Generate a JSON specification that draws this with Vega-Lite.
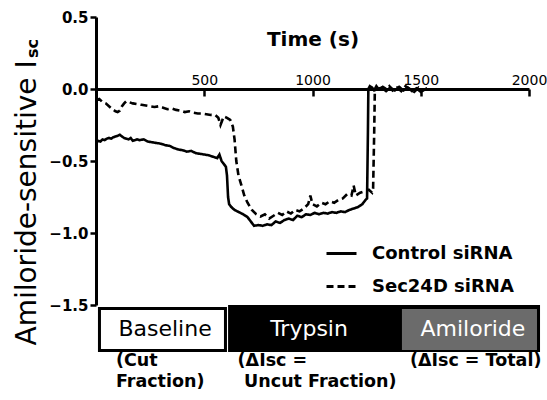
{
  "$schema": "https://vega.github.io/schema/vega-lite/v6.json",
  "width": 433,
  "height": 288,
  "autosize": {"type": "none"},
  "padding": {"left": 96, "top": 17, "right": 18, "bottom": 95},
  "background": "white",
  "config": {"view": {"stroke": null}, "font": "DejaVu Sans"},
  "datasets": {
    "traces": [
      {"t":0,"v":-0.37,"group":"Control siRNA"},{"t":10,"v":-0.36,"group":"Control siRNA"},{"t":20,"v":-0.365,"group":"Control siRNA"},{"t":30,"v":-0.35,"group":"Control siRNA"},{"t":40,"v":-0.355,"group":"Control siRNA"},{"t":50,"v":-0.345,"group":"Control siRNA"},{"t":60,"v":-0.34,"group":"Control siRNA"},{"t":70,"v":-0.345,"group":"Control siRNA"},{"t":80,"v":-0.335,"group":"Control siRNA"},{"t":90,"v":-0.33,"group":"Control siRNA"},{"t":100,"v":-0.325,"group":"Control siRNA"},{"t":110,"v":-0.318,"group":"Control siRNA"},{"t":120,"v":-0.33,"group":"Control siRNA"},{"t":130,"v":-0.34,"group":"Control siRNA"},{"t":140,"v":-0.345,"group":"Control siRNA"},{"t":150,"v":-0.35,"group":"Control siRNA"},{"t":160,"v":-0.34,"group":"Control siRNA"},{"t":170,"v":-0.36,"group":"Control siRNA"},{"t":180,"v":-0.355,"group":"Control siRNA"},{"t":190,"v":-0.35,"group":"Control siRNA"},{"t":200,"v":-0.355,"group":"Control siRNA"},{"t":220,"v":-0.35,"group":"Control siRNA"},{"t":240,"v":-0.365,"group":"Control siRNA"},{"t":260,"v":-0.37,"group":"Control siRNA"},{"t":280,"v":-0.375,"group":"Control siRNA"},{"t":300,"v":-0.38,"group":"Control siRNA"},{"t":320,"v":-0.39,"group":"Control siRNA"},{"t":340,"v":-0.395,"group":"Control siRNA"},{"t":360,"v":-0.41,"group":"Control siRNA"},{"t":380,"v":-0.42,"group":"Control siRNA"},{"t":400,"v":-0.425,"group":"Control siRNA"},{"t":420,"v":-0.435,"group":"Control siRNA"},{"t":440,"v":-0.43,"group":"Control siRNA"},{"t":460,"v":-0.445,"group":"Control siRNA"},{"t":480,"v":-0.45,"group":"Control siRNA"},{"t":500,"v":-0.455,"group":"Control siRNA"},{"t":520,"v":-0.46,"group":"Control siRNA"},{"t":540,"v":-0.47,"group":"Control siRNA"},{"t":560,"v":-0.48,"group":"Control siRNA"},{"t":570,"v":-0.455,"group":"Control siRNA"},{"t":580,"v":-0.5,"group":"Control siRNA"},{"t":590,"v":-0.52,"group":"Control siRNA"},{"t":600,"v":-0.54,"group":"Control siRNA"},{"t":605,"v":-0.6,"group":"Control siRNA"},{"t":610,"v":-0.75,"group":"Control siRNA"},{"t":615,"v":-0.8,"group":"Control siRNA"},{"t":625,"v":-0.82,"group":"Control siRNA"},{"t":640,"v":-0.84,"group":"Control siRNA"},{"t":660,"v":-0.855,"group":"Control siRNA"},{"t":680,"v":-0.87,"group":"Control siRNA"},{"t":700,"v":-0.89,"group":"Control siRNA"},{"t":715,"v":-0.92,"group":"Control siRNA"},{"t":730,"v":-0.95,"group":"Control siRNA"},{"t":750,"v":-0.945,"group":"Control siRNA"},{"t":770,"v":-0.95,"group":"Control siRNA"},{"t":790,"v":-0.94,"group":"Control siRNA"},{"t":810,"v":-0.945,"group":"Control siRNA"},{"t":830,"v":-0.92,"group":"Control siRNA"},{"t":850,"v":-0.93,"group":"Control siRNA"},{"t":870,"v":-0.91,"group":"Control siRNA"},{"t":890,"v":-0.9,"group":"Control siRNA"},{"t":910,"v":-0.91,"group":"Control siRNA"},{"t":930,"v":-0.88,"group":"Control siRNA"},{"t":950,"v":-0.89,"group":"Control siRNA"},{"t":970,"v":-0.87,"group":"Control siRNA"},{"t":990,"v":-0.875,"group":"Control siRNA"},{"t":1010,"v":-0.86,"group":"Control siRNA"},{"t":1030,"v":-0.87,"group":"Control siRNA"},{"t":1050,"v":-0.86,"group":"Control siRNA"},{"t":1070,"v":-0.865,"group":"Control siRNA"},{"t":1090,"v":-0.855,"group":"Control siRNA"},{"t":1110,"v":-0.86,"group":"Control siRNA"},{"t":1130,"v":-0.85,"group":"Control siRNA"},{"t":1150,"v":-0.855,"group":"Control siRNA"},{"t":1170,"v":-0.84,"group":"Control siRNA"},{"t":1190,"v":-0.83,"group":"Control siRNA"},{"t":1210,"v":-0.82,"group":"Control siRNA"},{"t":1230,"v":-0.8,"group":"Control siRNA"},{"t":1245,"v":-0.77,"group":"Control siRNA"},{"t":1252,"v":-0.76,"group":"Control siRNA"},{"t":1256,"v":-0.3,"group":"Control siRNA"},{"t":1258,"v":0.0,"group":"Control siRNA"},{"t":1265,"v":0.02,"group":"Control siRNA"},{"t":1275,"v":0.01,"group":"Control siRNA"},{"t":1285,"v":-0.01,"group":"Control siRNA"},{"t":1300,"v":0.0,"group":"Control siRNA"},{"t":1320,"v":0.01,"group":"Control siRNA"},{"t":1340,"v":-0.015,"group":"Control siRNA"},{"t":1360,"v":0.01,"group":"Control siRNA"},{"t":1380,"v":-0.01,"group":"Control siRNA"},{"t":1400,"v":0.015,"group":"Control siRNA"},{"t":1420,"v":-0.01,"group":"Control siRNA"},{"t":1440,"v":0.01,"group":"Control siRNA"},{"t":1460,"v":-0.015,"group":"Control siRNA"},{"t":1480,"v":0.005,"group":"Control siRNA"},{"t":1500,"v":-0.02,"group":"Control siRNA"},{"t":1520,"v":0.0,"group":"Control siRNA"},
      {"t":0,"v":-0.08,"group":"Sec24D siRNA"},{"t":15,"v":-0.07,"group":"Sec24D siRNA"},{"t":30,"v":-0.09,"group":"Sec24D siRNA"},{"t":45,"v":-0.1,"group":"Sec24D siRNA"},{"t":60,"v":-0.12,"group":"Sec24D siRNA"},{"t":75,"v":-0.14,"group":"Sec24D siRNA"},{"t":90,"v":-0.155,"group":"Sec24D siRNA"},{"t":100,"v":-0.16,"group":"Sec24D siRNA"},{"t":110,"v":-0.15,"group":"Sec24D siRNA"},{"t":120,"v":-0.12,"group":"Sec24D siRNA"},{"t":130,"v":-0.1,"group":"Sec24D siRNA"},{"t":140,"v":-0.085,"group":"Sec24D siRNA"},{"t":150,"v":-0.09,"group":"Sec24D siRNA"},{"t":170,"v":-0.1,"group":"Sec24D siRNA"},{"t":190,"v":-0.105,"group":"Sec24D siRNA"},{"t":210,"v":-0.11,"group":"Sec24D siRNA"},{"t":230,"v":-0.115,"group":"Sec24D siRNA"},{"t":250,"v":-0.12,"group":"Sec24D siRNA"},{"t":270,"v":-0.125,"group":"Sec24D siRNA"},{"t":290,"v":-0.12,"group":"Sec24D siRNA"},{"t":310,"v":-0.13,"group":"Sec24D siRNA"},{"t":330,"v":-0.14,"group":"Sec24D siRNA"},{"t":350,"v":-0.135,"group":"Sec24D siRNA"},{"t":370,"v":-0.145,"group":"Sec24D siRNA"},{"t":390,"v":-0.15,"group":"Sec24D siRNA"},{"t":410,"v":-0.16,"group":"Sec24D siRNA"},{"t":430,"v":-0.155,"group":"Sec24D siRNA"},{"t":450,"v":-0.165,"group":"Sec24D siRNA"},{"t":470,"v":-0.17,"group":"Sec24D siRNA"},{"t":490,"v":-0.17,"group":"Sec24D siRNA"},{"t":510,"v":-0.175,"group":"Sec24D siRNA"},{"t":530,"v":-0.18,"group":"Sec24D siRNA"},{"t":550,"v":-0.18,"group":"Sec24D siRNA"},{"t":565,"v":-0.2,"group":"Sec24D siRNA"},{"t":575,"v":-0.25,"group":"Sec24D siRNA"},{"t":590,"v":-0.19,"group":"Sec24D siRNA"},{"t":605,"v":-0.2,"group":"Sec24D siRNA"},{"t":620,"v":-0.215,"group":"Sec24D siRNA"},{"t":632,"v":-0.26,"group":"Sec24D siRNA"},{"t":640,"v":-0.35,"group":"Sec24D siRNA"},{"t":648,"v":-0.5,"group":"Sec24D siRNA"},{"t":658,"v":-0.6,"group":"Sec24D siRNA"},{"t":670,"v":-0.66,"group":"Sec24D siRNA"},{"t":685,"v":-0.74,"group":"Sec24D siRNA"},{"t":700,"v":-0.79,"group":"Sec24D siRNA"},{"t":720,"v":-0.84,"group":"Sec24D siRNA"},{"t":740,"v":-0.87,"group":"Sec24D siRNA"},{"t":760,"v":-0.885,"group":"Sec24D siRNA"},{"t":780,"v":-0.87,"group":"Sec24D siRNA"},{"t":800,"v":-0.9,"group":"Sec24D siRNA"},{"t":820,"v":-0.88,"group":"Sec24D siRNA"},{"t":840,"v":-0.86,"group":"Sec24D siRNA"},{"t":860,"v":-0.875,"group":"Sec24D siRNA"},{"t":880,"v":-0.85,"group":"Sec24D siRNA"},{"t":900,"v":-0.865,"group":"Sec24D siRNA"},{"t":920,"v":-0.84,"group":"Sec24D siRNA"},{"t":940,"v":-0.85,"group":"Sec24D siRNA"},{"t":960,"v":-0.83,"group":"Sec24D siRNA"},{"t":980,"v":-0.8,"group":"Sec24D siRNA"},{"t":990,"v":-0.74,"group":"Sec24D siRNA"},{"t":1000,"v":-0.8,"group":"Sec24D siRNA"},{"t":1020,"v":-0.815,"group":"Sec24D siRNA"},{"t":1040,"v":-0.79,"group":"Sec24D siRNA"},{"t":1060,"v":-0.8,"group":"Sec24D siRNA"},{"t":1080,"v":-0.78,"group":"Sec24D siRNA"},{"t":1100,"v":-0.79,"group":"Sec24D siRNA"},{"t":1120,"v":-0.77,"group":"Sec24D siRNA"},{"t":1140,"v":-0.76,"group":"Sec24D siRNA"},{"t":1160,"v":-0.73,"group":"Sec24D siRNA"},{"t":1180,"v":-0.74,"group":"Sec24D siRNA"},{"t":1190,"v":-0.67,"group":"Sec24D siRNA"},{"t":1200,"v":-0.74,"group":"Sec24D siRNA"},{"t":1220,"v":-0.72,"group":"Sec24D siRNA"},{"t":1240,"v":-0.71,"group":"Sec24D siRNA"},{"t":1260,"v":-0.7,"group":"Sec24D siRNA"},{"t":1275,"v":-0.72,"group":"Sec24D siRNA"},{"t":1280,"v":-0.69,"group":"Sec24D siRNA"},{"t":1285,"v":-0.3,"group":"Sec24D siRNA"},{"t":1288,"v":0.0,"group":"Sec24D siRNA"},{"t":1295,"v":0.02,"group":"Sec24D siRNA"},{"t":1310,"v":-0.01,"group":"Sec24D siRNA"},{"t":1325,"v":0.015,"group":"Sec24D siRNA"},{"t":1340,"v":0.0,"group":"Sec24D siRNA"},{"t":1355,"v":0.02,"group":"Sec24D siRNA"},{"t":1370,"v":-0.01,"group":"Sec24D siRNA"},{"t":1390,"v":0.01,"group":"Sec24D siRNA"},{"t":1410,"v":-0.015,"group":"Sec24D siRNA"},{"t":1430,"v":0.02,"group":"Sec24D siRNA"},{"t":1450,"v":0.0,"group":"Sec24D siRNA"},{"t":1470,"v":-0.02,"group":"Sec24D siRNA"},{"t":1490,"v":0.01,"group":"Sec24D siRNA"},{"t":1510,"v":-0.01,"group":"Sec24D siRNA"},{"t":1530,"v":0.005,"group":"Sec24D siRNA"}
    ],
    "phases": [
      {"phase":"Baseline","start":16,"end":598,"top":-1.524,"bottom":-1.816,"labelT":319,"labelV":-1.718},
      {"phase":"Trypsin","start":617,"end":2044,"top":-1.51,"bottom":-1.816,"labelT":984,"labelV":-1.718},
      {"phase":"Amiloride","start":1420,"end":2030,"top":-1.538,"bottom":-1.802,"labelT":1741,"labelV":-1.718}
    ],
    "notes": [
      {"note":"(Cut\nFraction)","t":92,"v":-1.924},
      {"note":"(ΔIsc =","t":654,"v":-1.924},
      {"note":"Uncut Fraction)","t":684,"v":-2.07},
      {"note":"(ΔIsc = Total)","t":1450,"v":-1.924}
    ],
    "sub": [
      {"s":"sc","t":-266,"v":0.215}
    ]
  },
  "layer": [
    {
      "data": {"name": "phases"},
      "mark": {"type": "rect", "strokeWidth": 3},
      "encoding": {
        "x": {"field": "start", "type": "quantitative", "scale": {"domain": [0, 2000], "nice": false, "zero": false}},
        "x2": {"field": "end"},
        "y": {"field": "top", "type": "quantitative", "scale": {"domain": [-1.5, 0.5], "nice": false, "zero": false}},
        "y2": {"field": "bottom"},
        "fill": {"field": "phase", "type": "nominal", "legend": null, "scale": {"domain": ["Baseline", "Trypsin", "Amiloride"], "range": ["white", "black", "#6b6b6b"]}},
        "stroke": {"field": "phase", "type": "nominal", "legend": null, "scale": {"domain": ["Baseline", "Trypsin", "Amiloride"], "range": ["black", "black", "#6b6b6b"]}}
      }
    },
    {
      "data": {"name": "phases"},
      "mark": {"type": "text", "fontSize": 22, "align": "center", "baseline": "alphabetic"},
      "encoding": {
        "x": {"field": "labelT", "type": "quantitative"},
        "y": {"field": "labelV", "type": "quantitative"},
        "text": {"field": "phase"},
        "color": {"condition": {"test": "datum.phase === 'Baseline'", "value": "black"}, "value": "white"}
      }
    },
    {
      "data": {"name": "notes"},
      "mark": {"type": "text", "fontSize": 17.5, "fontWeight": "bold", "align": "left", "baseline": "alphabetic", "lineBreak": "\n", "lineHeight": 21, "color": "black"},
      "encoding": {
        "x": {"field": "t", "type": "quantitative"},
        "y": {"field": "v", "type": "quantitative"},
        "text": {"field": "note"}
      }
    },
    {
      "data": {"name": "sub"},
      "mark": {"type": "text", "fontSize": 16, "fontWeight": "bold", "align": "left", "baseline": "alphabetic", "angle": 270, "color": "black"},
      "encoding": {
        "x": {"field": "t", "type": "quantitative"},
        "y": {"field": "v", "type": "quantitative"},
        "text": {"field": "s"}
      }
    },
    {
      "data": {"name": "traces"},
      "mark": {"type": "line", "strokeWidth": 2.6, "color": "black"},
      "encoding": {
        "x": {
          "field": "t", "type": "quantitative",
          "axis": {
            "orient": "top", "offset": -72, "values": [500, 1000, 1500, 2000], "format": "d",
            "domainColor": "black", "domainWidth": 3, "tickColor": "black", "tickWidth": 2.5, "tickSize": -7,
            "labelPadding": 9, "labelFontSize": 14, "labelColor": "black", "labelFlush": false, "grid": false,
            "title": "Time (s)", "titleFontSize": 20, "titleFontWeight": "bold", "titleColor": "black",
            "titleY": -44, "titleBaseline": "alphabetic"
          }
        },
        "y": {
          "field": "v", "type": "quantitative",
          "axis": {
            "orient": "left", "values": [-1.5, -1, -0.5, 0, 0.5], "format": ".1f",
            "domainColor": "black", "domainWidth": 3, "tickColor": "black", "tickWidth": 2.5, "tickSize": 6,
            "labelPadding": 2, "labelFontSize": 15, "labelFontWeight": "bold", "labelColor": "black", "grid": false,
            "title": "Amiloride-sensitive I", "titleFontSize": 28, "titleFontWeight": "normal", "titleColor": "black",
            "titleAngle": 270, "titleAlign": "left", "titleBaseline": "alphabetic", "titleX": -61, "titleY": 328
          }
        },
        "strokeDash": {
          "field": "group", "type": "nominal",
          "scale": {"domain": ["Control siRNA", "Sec24D siRNA"], "range": [[1, 0], [7, 4]]},
          "legend": {
            "orient": "none", "legendX": 229, "legendY": 220, "title": null, "padding": 0,
            "symbolType": "stroke", "symbolSize": 900, "symbolStrokeWidth": 3, "symbolStrokeColor": "black",
            "labelFontSize": 18, "labelFontWeight": "bold", "labelColor": "black", "labelOffset": 14, "rowPadding": 7
          }
        }
      }
    }
  ]
}
